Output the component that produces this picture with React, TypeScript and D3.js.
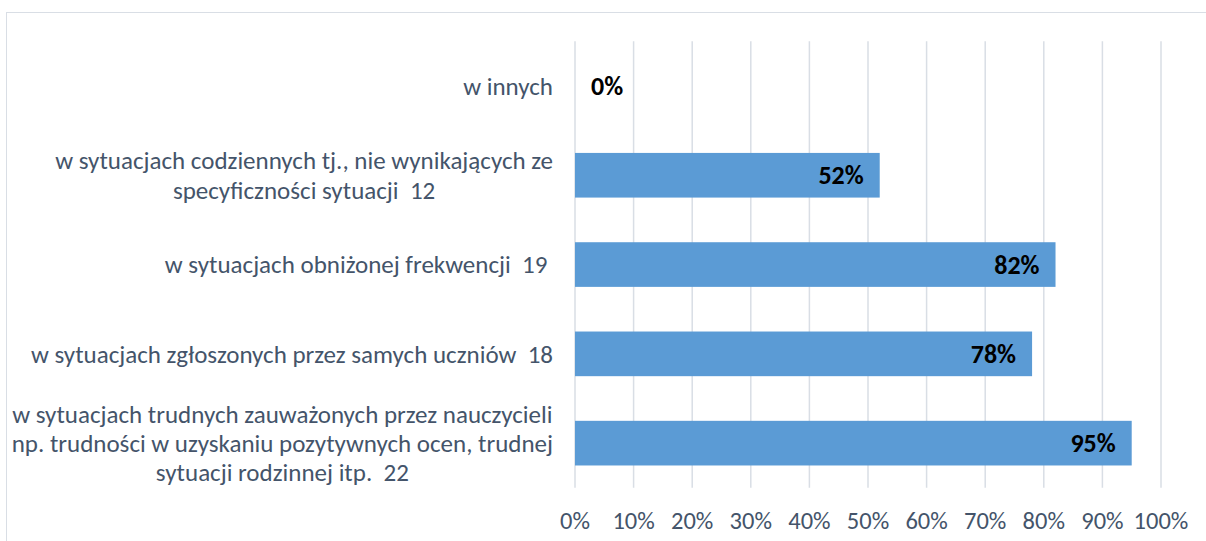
import React, { useRef, useEffect } from 'react';
import * as d3 from 'd3';

// categories, top to bottom, already wrapped the way the chart shows them
const categoryLines: string[][] = [
  ['w innych'],
  ['w sytuacjach codziennych tj., nie wynikających ze', 'specyficzności sytuacji  12'],
  ['w sytuacjach obniżonej frekwencji  19 '],
  ['w sytuacjach zgłoszonych przez samych uczniów  18'],
  [
    'w sytuacjach trudnych zauważonych przez nauczycieli',
    'np. trudności w uzyskaniu pozytywnych ocen, trudnej',
    'sytuacji rodzinnej itp.  22',
  ],
];
const values: number[] = [0, 0.52, 0.82, 0.78, 0.95];
const tickValues: number[] = [0, 0.1, 0.2, 0.3, 0.4, 0.5, 0.6, 0.7, 0.8, 0.9, 1];

const W = 1206;
const H = 541;
const FONT = 'Carlito, Lato, sans-serif';
const TEXT = '#44546A';
const GRID = '#D9DEE5';
const BAR = '#5B9BD5';

const App = () => {
  const svgRef = useRef<SVGSVGElement>(null);

  useEffect(() => {
    const svg = d3.select(svgRef.current);
    svg.selectAll('*').remove();

    const keys = categoryLines.map((_, i) => String(i));
    const x = d3.scaleLinear().domain([0, 1]).range([575, 1161]);
    const y = d3.scaleBand()
      .domain(keys)
      .range([41.3, 487.8])
      .paddingInner(0.5)
      .paddingOuter(0.25);

    // chart border (only top and left show in the crop)
    svg.append('rect')
      .attr('x', 6.5)
      .attr('y', 12.5)
      .attr('width', 1400)
      .attr('height', 800)
      .attr('fill', 'none')
      .attr('stroke', GRID)
      .attr('stroke-width', 1);

    // vertical gridlines
    svg.append('g')
      .selectAll('line')
      .data(tickValues)
      .enter().append('line')
      .attr('x1', d => x(d))
      .attr('x2', d => x(d))
      .attr('y1', 41.3)
      .attr('y2', 487.8)
      .attr('stroke', GRID)
      .attr('stroke-width', 1.5);

    // tick labels
    svg.append('g')
      .attr('font-family', FONT)
      .attr('font-size', 24.5)
      .attr('fill', TEXT)
      .attr('text-anchor', 'middle')
      .selectAll('text')
      .data(tickValues)
      .enter().append('text')
      .attr('x', d => x(d))
      .attr('y', 520)
      .attr('dy', '0.35em')
      .text(d => d3.format('.0%')(d));

    // bars
    svg.append('g')
      .selectAll('rect')
      .data(values)
      .enter().append('rect')
      .attr('x', x(0))
      .attr('y', (d, i) => y(keys[i]) as number)
      .attr('width', d => x(d) - x(0))
      .attr('height', y.bandwidth())
      .attr('fill', BAR);

    // value labels
    svg.append('g')
      .attr('font-family', FONT)
      .attr('font-size', 26)
      .attr('font-weight', 'bold')
      .attr('fill', '#000')
      .selectAll('text')
      .data(values)
      .enter().append('text')
      .attr('x', d => (d > 0 ? x(d) - 16 : x(0) + 16))
      .attr('text-anchor', d => (d > 0 ? 'end' : 'start'))
      .attr('y', (d, i) => (y(keys[i]) as number) + y.bandwidth() / 2)
      .attr('dy', '0.35em')
      .text(d => d3.format('.0%')(d));

    // category labels: block right-aligned, lines centred within the block
    const lineH = 29.3;
    const right = 553;
    const labels = svg.append('g')
      .attr('font-family', FONT)
      .attr('font-size', 25)
      .attr('fill', TEXT);

    categoryLines.forEach((lines, i) => {
      const cy = (y(keys[i]) as number) + y.bandwidth() / 2;
      const g = labels.append('g');
      const texts = g.selectAll('text')
        .data(lines)
        .enter().append('text')
        .attr('y', (d, j) => cy + (j - (lines.length - 1) / 2) * lineH)
        .attr('dy', '0.35em')
        .style('white-space', 'pre')
        .text(d => d);
      let maxW = 0;
      texts.each(function () {
        maxW = Math.max(maxW, (this as SVGTextElement).getComputedTextLength());
      });
      texts
        .attr('text-anchor', 'middle')
        .attr('x', right - maxW / 2);
    });
  }, []);

  return (
    <svg
      ref={svgRef}
      width={W}
      height={H}
      style={{ position: 'absolute', left: 0, top: 0, background: '#fff', display: 'block' }}
    />
  );
};

export default App;
